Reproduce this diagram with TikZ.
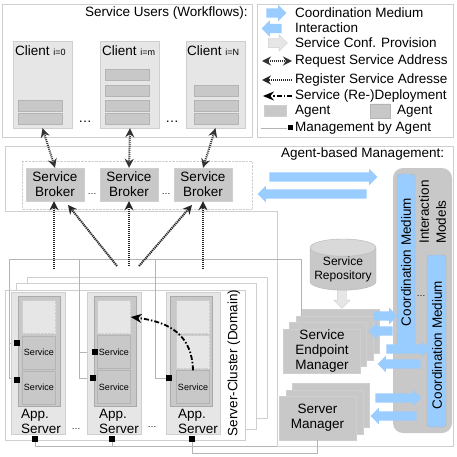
\documentclass[tikz,border=0pt]{standalone}
\usepackage{fontspec}
\setmainfont{Liberation Sans}
\usepackage{xcolor}
\usetikzlibrary{shapes.geometric, shapes.arrows, arrows.meta, positioning, calc}
\definecolor{boxline}{HTML}{CFCFCF}
\definecolor{panelfill}{HTML}{E6E6E6}
\definecolor{agentfill}{HTML}{C8C8C8}
\definecolor{agentline}{HTML}{B4B4B4}
\definecolor{mediumblue}{HTML}{99CCFF}
\newcommand{\bigfont}{\fontsize{13.5}{15}\selectfont}
\newcommand{\smallfont}{\fontsize{9}{10}\selectfont}

\begin{document}
\begin{tikzpicture}[
    x=1pt, y=-1pt,
    frame/.style={draw=boxline, fill=white, line width=0.8pt},
    client/.style={draw=boxline, fill=panelfill, minimum width=59pt, minimum height=87pt},
    slot/.style={draw=agentline, fill=agentfill, minimum width=44pt, minimum height=11pt, inner sep=0},
    broker/.style={draw=boxline, fill=agentfill, minimum width=58pt, minimum height=33pt, inner sep=0, align=center, font=\bigfont},
    appserver/.style={draw=boxline, fill=panelfill, minimum width=54pt, minimum height=142pt},
    stack/.style={draw=agentfill!85!black, fill=agentfill, minimum width=42pt, minimum height=110pt},
    service/.style={draw=agentline, fill=agentfill, minimum width=33pt, minimum height=33pt, inner sep=0, font=\smallfont},
    freeslot/.style={draw=boxline, densely dotted, fill=panelfill, minimum width=33pt, minimum height=33pt},
    manager/.style={draw=boxline, fill=agentfill, minimum width=77pt, minimum height=44pt, inner sep=0, align=center, font=\bigfont},
    label/.style={inner sep=0, align=center, font=\bigfont},
    legendtext/.style={inner sep=0, inner xsep=3pt, anchor=west, font=\bigfont},
    agentsquare/.style={fill=black, minimum size=6pt, inner sep=0},
    mgmtline/.style={draw=agentline, line width=0.7pt},
    medium/.style={draw=agentline, rounded corners=3pt, fill=mediumblue},
    barrel/.style={draw=agentline, cylinder, shape border rotate=90, cylinder uses custom fill, cylinder body fill=agentfill, cylinder end fill=agentfill!70, inner sep=0},
    blockarrow/.style={single arrow, fill=mediumblue, inner sep=0, inner ysep=4.5pt, single arrow head extend=3.5pt, single arrow head indent=0pt},
    backarrow/.style={blockarrow, shape border rotate=180},
    reqarrow/.style={line width=2pt, black!80, dash pattern=on 1pt off 1pt, {Stealth[length=9pt,width=9pt]}-{Stealth[length=9pt,width=9pt]}},
    regarrow/.style={line width=2pt, black!85, dash pattern=on 1.2pt off 0.8pt, -{Stealth[length=9pt,width=9pt]}},
    deployarrow/.style={line width=1.8pt, black, dash pattern=on 5pt off 2pt on 1.5pt off 2pt, -{Stealth[length=11pt,width=9pt]}}
]
\useasboundingbox (0,0) rectangle (457,457);

% Service users
\draw[frame] (252,137) -- (2,137) -- (2,4) -- (252,4) -- cycle;
\node[label, anchor=west] (users) at (85,13) {Service Users (Workflows):};
\node[client] (client0) at (42.5,84.5) {};
\node[client] (clientm) at (130,84.5) {};
\node[client] (clientn) at (215.5,84.5) {};
\node[label, anchor=west] (client0t) at (15,51) {Client {\smallfont i=0}};
\node[label, anchor=west] (clientmt) at (102,51) {Client {\smallfont i=m}};
\node[label, anchor=west] (clientnt) at (187,51) {Client {\smallfont i=N}};
\node[slot] (a01) at (40,105.5) {};
\node[slot] (a02) at (40,118.5) {};
\node[slot] (am1) at (127,75) {};
\node[slot] (am2) at (127,90.5) {};
\node[slot] (am3) at (127,105.5) {};
\node[slot] (am4) at (127,118.5) {};
\node[slot] (an1) at (216,90.5) {};
\node[slot] (an2) at (216,105.5) {};
\node[slot] (an3) at (216,118.5) {};
\node[label] (dotsa) at (85,122) {\dots};
\node[label] (dotsb) at (172,122) {\dots};

% Legend
\draw[frame] (257,4) rectangle (453,137);
\node[blockarrow, minimum height=20pt] (legcoord) at (274,13) {};
\node[backarrow, minimum height=20pt] (leginter) at (274,28.5) {};
\node[blockarrow, draw=boxline, fill=panelfill, minimum height=19pt] (legconf) at (275.5,43) {};
\node[legendtext] (legcoordt) at (292,13) {Coordination Medium};
\node[legendtext] (leginfot) at (292,28) {Interaction};
\node[legendtext] (legconft) at (292,43) {Service Conf. Provision};
\node[legendtext] (legreqt) at (292,61) {Request Service Address};
\node[legendtext] (legregt) at (292,80) {Register Service Adresse};
\node[legendtext] (legdept) at (292,96) {Service (Re-)Deployment};
\node[legendtext] (legagentt) at (292,111) {Agent};
\node[legendtext] (legagentb) at (394,111) {Agent};
\node[legendtext] (legmgmtt) at (292,128) {Management by Agent};
\coordinate (legreq) at (262,61);
\coordinate (legreg) at (262,80);
\coordinate (legdep) at (263,96);
\coordinate (legline) at (261,128);
\draw[reqarrow] (legreq) -- (legreqt.west);
\draw[regarrow] (legregt.west) -- (legreg);
\draw[deployarrow] (legdept.west) -- (legdep);
\node[draw=boxline, fill=agentfill, minimum width=22pt, minimum height=11pt, inner sep=0] (legagent) at (275,110.5) {};
\node[barrel, aspect=0.4, minimum height=14pt, minimum width=20pt] (legdb) at (380.5,111) {};
\node[agentsquare, minimum size=5pt] (legsquare) at (290,128) {};
\draw[mgmtline] (legline) -- (legsquare);

% Brokers and management area
\draw[frame] (5,146) -- (453,146) -- (453,446) -- (277,446) -- (277,211) -- (5,211) -- cycle;
\draw[boxline, densely dotted] (22,161) rectangle (252,209);
\node[label, anchor=west] (mgmt) at (281,154) {Agent-based Management:};
\node[broker] (broker0) at (55,184.5) {Service\\Broker};
\node[broker] (broker1) at (129,184.5) {Service\\Broker};
\node[broker] (broker2) at (203,184.5) {Service\\Broker};
\node[label, font=\smallfont] (dotsc) at (92,194) {\dots};
\node[label, font=\smallfont] (dotsd) at (166,194) {\dots};

% Server cluster
\draw[frame] (27,277) rectangle (267,418);
\draw[frame] (16,283) rectangle (256,429);
\draw[frame] (5,290) rectangle (245,440);

% Management lines
\coordinate (semtop) at (301,316);
\coordinate (corner) at (301,259);
\coordinate (line0) at (9,259);
\coordinate (line1) at (79,259);
\coordinate (line2) at (155,259);
\coordinate (sqbase) at (9,378);
\coordinate (sqa) at (9,343);
\coordinate (sqb) at (79,352);
\coordinate (sqc) at (79,378);
\coordinate (sqd) at (155,378);
\coordinate (sq0a) at (17,343);
\coordinate (sq0b) at (17,380);
\coordinate (sq1a) at (95,352);
\coordinate (sq1b) at (93,378);
\coordinate (sq2) at (169,378);
\draw[mgmtline] (semtop) -- (corner) -- (line0) -- (sqbase) -- (sq0b |- sqbase);
\draw[mgmtline] (sqa) -- (sq0a);
\draw[mgmtline] (line1) -- (sqc) -- (sq1b);
\draw[mgmtline] (sqb) -- (sq1a);
\draw[mgmtline] (line2) -- (sqd) -- (sq2);

% App servers
\node[appserver] (app0) at (38,363) {};
\node[appserver] (app1) at (114.5,363) {};
\node[appserver] (app2) at (193,363) {};
\node[stack] (stack0) at (39,351) {};
\node[stack] (stack1) at (115,351) {};
\node[stack] (stack2) at (191,351) {};
\node[freeslot] (free0) at (39,317) {};
\node[service] (srv0a) at (39,352.5) {Service};
\node[service] (srv0b) at (39,387.5) {Service};
\node[freeslot] (free1) at (114,317) {};
\node[service] (srv1a) at (114,352) {Service};
\node[service] (srv1b) at (114,387) {Service};
\node[freeslot] (free2a) at (193,317) {};
\node[freeslot] (free2b) at (193,352) {};
\node[service] (srv2) at (193,387) {Service};
\node[label, align=left, anchor=north west] (app0t) at (21,409) {App.\\Server};
\node[label, align=left, anchor=north west] (app1t) at (99,409) {App.\\Server};
\node[label, align=left, anchor=north west] (app2t) at (178,409) {App.\\Server};
\node[label, font=\smallfont] (dotse) at (76,429) {\dots};
\node[label, font=\smallfont] (dotsf) at (152,427) {\dots};
\node[label, rotate=90] (cluster) at (234,363) {Server-Cluster (Domain)};
\node[agentsquare] (sqmark0a) at (sq0a) {};
\node[agentsquare] (sqmark0b) at (sq0b) {};
\node[agentsquare] (sqmark1a) at (sq1a) {};
\node[agentsquare] (sqmark1b) at (sq1b) {};
\node[agentsquare] (sqmark2) at (sq2) {};
\node[agentsquare] (sqfoot0) at (35,439) {};
\node[agentsquare] (sqfoot1) at (112,439) {};
\node[agentsquare] (sqfoot2) at (192,439) {};

% Service deployment
\draw[deployarrow] (srv2.north) .. controls (192,335) and (170,322) .. (free1.east);

% Repository and managers
\node[barrel, aspect=0.3, minimum height=33pt, minimum width=66pt, align=center, font=\fontsize{12}{14}\selectfont] (repo) at (343,269) {Service\\Repository};
\node[manager] (sem3) at (341,331) {};
\node[manager] (sem2) at (335,338) {};
\node[manager] (sem1) at (328,344.5) {};
\node[manager] (sem) at (322,351) {Service\\Endpoint\\Manager};
\node[manager] (srvm3) at (330.5,405) {};
\node[manager] (srvm2) at (324.5,412) {};
\node[manager] (srvm) at (317.5,418) {Server\\Manager};
\node[blockarrow, rotate=-90, draw=boxline, fill=panelfill, minimum height=18pt] (provision) at (342,297) {};

% Interaction models
\node[draw=none, fill=agentfill, rounded corners=10pt, minimum width=59pt, minimum height=265pt] (models) at (422.5,300.5) {};
\node[medium, minimum width=18pt, minimum height=178pt] (medium1) at (406,263) {};
\node[medium, minimum width=19pt, minimum height=172pt] (medium2) at (436.5,341) {};
\node[label, rotate=90] (medium1t) at (406,262) {Coordination Medium};
\node[label, rotate=90] (medium2t) at (437,345) {Coordination Medium};
\node[label, rotate=90] (interact) at (424,212) {Interaction};
\node[label, rotate=90] (modelst) at (441,222) {Models};
\node[label, font=\smallfont] (dotsg) at (421,296) {\dots};

% Interaction arrows
\node[blockarrow, minimum height=108pt] (toagents) at (321,177) {};
\node[backarrow, minimum height=109pt] (frommedium) at (314.5,194) {};
\node[blockarrow, minimum height=24pt] (semout) at (383,316) {};
\node[backarrow, minimum height=24pt] (semin) at (383,331) {};
\node[blockarrow, minimum height=43pt] (semout2) at (405.5,349) {};
\node[backarrow, minimum height=43pt] (semin2) at (401.5,364) {};
\node[blockarrow, minimum height=46pt] (srvout) at (396,398) {};
\node[backarrow, minimum height=46pt] (srvin) at (396,416) {};

% Foot lines
\coordinate (foot0) at (35,446);
\coordinate (foot1) at (112,446);
\coordinate (boxcorner) at (277,446);
\coordinate (foot2) at (192,453);
\coordinate (foot3) at (317,453);
\draw[mgmtline] (sqfoot0) -- (foot0) -- (boxcorner);
\draw[mgmtline] (sqfoot1) -- (foot1);
\draw[mgmtline] (sqfoot2) -- (foot2) -- (foot3) -- (srvm.south -| foot3);

% Broker arrows
\coordinate (reg0) at (54,269);
\coordinate (reg1) at (117,266);
\coordinate (reg2) at (129,266);
\coordinate (reg3) at (139,266);
\coordinate (reg4) at (203,269);
\coordinate (tip1) at (68,205);
\coordinate (tip3) at (192,205);
\draw[reqarrow] (client0.south) -- (broker0.north);
\draw[reqarrow] (clientm.south) -- (broker1.north);
\draw[reqarrow] (clientn.south) -- (broker2.north);
\draw[regarrow] (reg0) -- (reg0 |- broker0.south);
\draw[regarrow] (reg1) -- (tip1);
\draw[regarrow] (reg2) -- (broker1.south);
\draw[regarrow] (reg3) -- (tip3);
\draw[regarrow] (reg4) -- (reg4 |- broker2.south);

\end{tikzpicture}
\end{document}
